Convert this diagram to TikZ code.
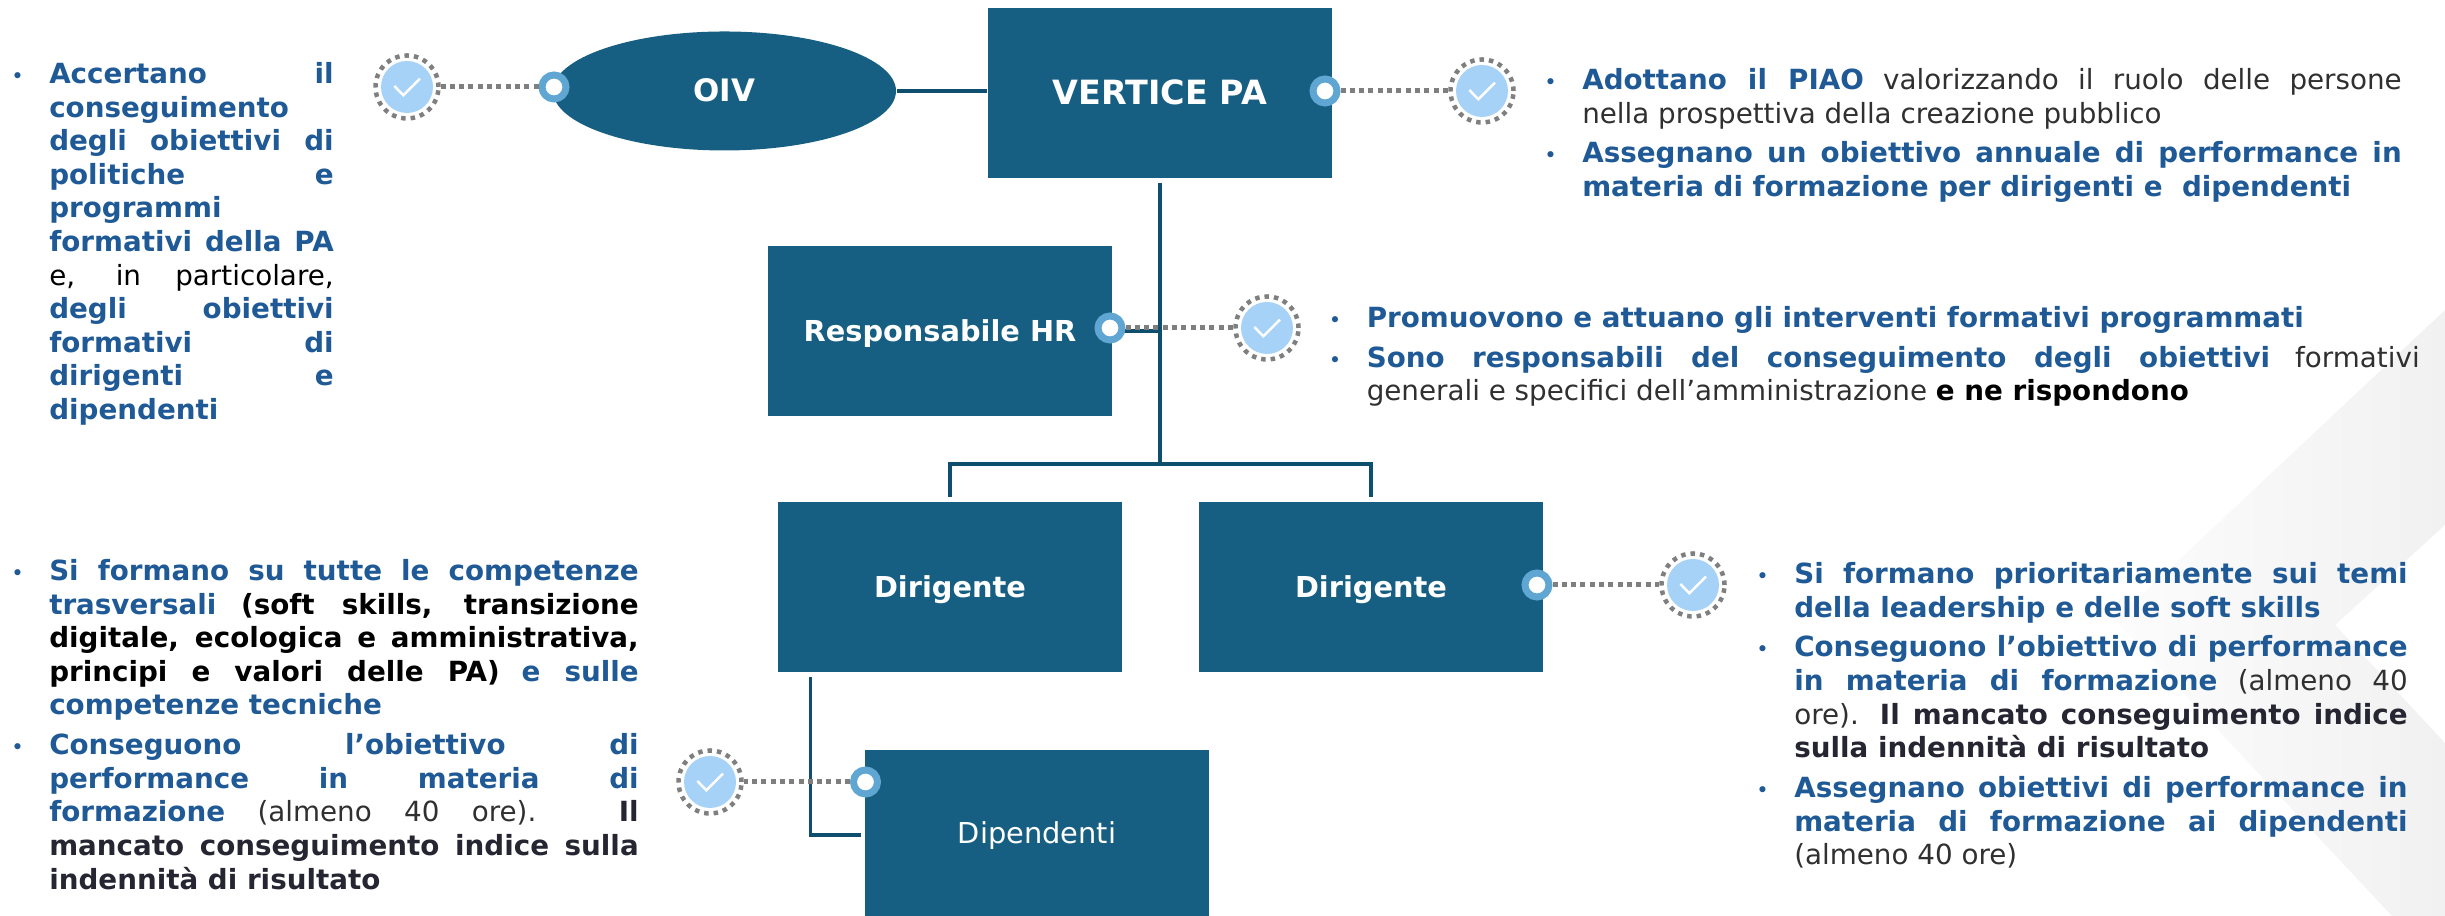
\documentclass[tikz,border=0pt]{standalone}
\usepackage{fontspec}
\setmainfont{DejaVu Sans}
\usetikzlibrary{shapes.geometric}

\definecolor{boxblue}{HTML}{175F82}
\definecolor{linkblue}{HTML}{0F4F6E}
\definecolor{ringblue}{HTML}{5FA6D3}
\definecolor{dotblue}{HTML}{A6D2F7}
\definecolor{dotgray}{HTML}{7F7F7F}
\definecolor{textblue}{HTML}{1F5A96}
\definecolor{textgray}{HTML}{303030}
\definecolor{textdark}{HTML}{262633}
\definecolor{chevrongray}{HTML}{F1F1F1}

\tolerance=10000
\hyphenpenalty=10000
\hfuzz=20pt

\newcommand{\blu}[1]{\textcolor{textblue}{\textbf{#1}}}
\newcommand{\blk}[1]{\textcolor{black}{\textbf{#1}}}
\newcommand{\drk}[1]{\textcolor{textdark}{\textbf{#1}}}
\newcommand{\bitem}{\parskip=1.76pt\par\noindent\hangindent=10.4pt\hangafter=1
  \hbox to 10.4pt{\kern-0.4pt\textcolor{textblue}{\fontsize{6}{6}\selectfont •}\hss}\strut}
\newcommand{\checkmarker}[3]{
  \node[checkdot] (#1) at (#2cm, #3cm) {};
  \node[checkring] (#1ring) at (#1) {};
}

\tikzset{
  orgbox/.style={rectangle, fill=boxblue, text=white, inner sep=0pt,
    minimum width=3.44cm, minimum height=1.70cm},
  orglabel/.style={font=\fontsize{8.2}{10}\selectfont\bfseries, text height=0.21cm, text depth=0pt},
  linkline/.style={draw=linkblue, line width=0.035cm},
  stopring/.style={circle, fill=white, draw=ringblue, line width=0.07cm,
    inner sep=0pt, minimum size=0.24cm},
  checkdot/.style={circle, fill=dotblue, inner sep=0pt, minimum size=0.52cm,
    path picture={\draw[white, line width=0.025cm]
      (-0.127cm,0.01cm) -- (-0.037cm,-0.083cm) -- (0.13cm,0.083cm);}},
  checkring/.style={circle, draw=dotgray, line width=0.045cm, inner sep=0pt,
    minimum size=0.63cm, dash pattern=on 0.045cm off 0.05cm},
  dotlink/.style={draw=dotgray, line width=0.05cm, dash pattern=on 0.05cm off 0.043cm},
  notes/.style={anchor=north west, inner sep=0pt, align=justify, text=textgray,
    font=\fontsize{7.9}{9.56}\selectfont}
}

\begin{document}
\begin{tikzpicture}
\useasboundingbox (0cm, 0cm) rectangle (24.45cm, 9.16cm);

% chevron behind everything
\shade[left color=chevrongray!20, right color=chevrongray, shading angle=90]
  (24.45cm, 6.06cm) -- (21.15cm, 2.96cm) -- (23.92cm, 0cm) -- (24.45cm, 0cm)
  -- (24.45cm, 1.73cm) -- (23.35cm, 2.91cm) -- (24.45cm, 3.91cm) -- cycle;

% organisation chart
\node[ellipse, fill=boxblue, text=white, inner sep=0pt, minimum width=3.43cm,
  minimum height=1.19cm, orglabel, font=\fontsize{8.8}{10}\selectfont\bfseries] (oiv) at (7.245cm, 8.25cm) {OIV};
\node[orgbox, orglabel, font=\fontsize{9.5}{11}\selectfont\bfseries, text height=0.24cm] (vertice) at (11.6cm, 8.23cm) {VERTICE PA};
\node[orgbox, orglabel] (hr) at (9.40cm, 5.85cm) {Responsabile HR};
\node[orgbox, orglabel] (dirleft) at (9.50cm, 3.29cm) {Dirigente};
\node[orgbox, orglabel] (dirright) at (13.71cm, 3.29cm) {Dirigente};
\node[orgbox, orglabel, minimum height=1.66cm, font=\fontsize{8.2}{10}\selectfont] (dip) at (10.37cm, 0.83cm) {Dipendenti};

\coordinate (busmid) at (11.6cm, 4.52cm);
\coordinate (dipstart) at (8.106cm, 2.39cm);
\coordinate (dipend) at (8.61cm, 0.81cm);

\draw[linkline, line width=0.04cm] (oiv.east) -- (oiv.east -| vertice.west);
\draw[linkline, shorten <=0.04cm] (vertice.south) -- (busmid);
\draw[linkline, line width=0.04cm, shorten <=0.04cm, shorten >=0.04cm]
  (dirleft.north) |- (busmid) -| (dirright.north);
\draw[linkline, line width=0.04cm] (hr.east) -- (hr.east -| vertice.south);
\draw[linkline] (dipstart) |- (dipend);

% markers
\node[stopring] (ringoiv) at (5.54cm, 8.29cm) {};
\node[stopring] (ringvertice) at (13.25cm, 8.25cm) {};
\node[stopring] (ringhr) at (11.10cm, 5.88cm) {};
\node[stopring] (ringdir) at (15.37cm, 3.31cm) {};
\node[stopring] (ringdip) at (8.655cm, 1.34cm) {};
\checkmarker{checkoiv}{4.07}{8.29}
\checkmarker{checkvertice}{14.82}{8.25}
\checkmarker{checkhr}{12.67}{5.88}
\checkmarker{checkdir}{16.93}{3.31}
\checkmarker{checkdip}{7.10}{1.34}
\draw[dotlink] (ringoiv) -- (checkoivring);
\draw[dotlink] (ringvertice) -- (checkverticering);
\draw[dotlink] (ringhr) -- (checkhrring);
\draw[dotlink] (ringdir) -- (checkdirring);
\draw[dotlink] (ringdip) -- (checkdipring);

% notes
\node[notes, text width=3.21cm] (noteoiv) at (0.12cm, 8.73cm) {%
\bitem\blu{Accertano il}\linebreak
\blu{conseguimento}\linebreak
\blu{degli obiettivi di}\linebreak
\blu{politiche e}\linebreak
\blu{programmi}\linebreak
\blu{formativi della PA}\linebreak
\textcolor{black}{e, in particolare,}\linebreak
\blu{degli obiettivi}\linebreak
\blu{formativi di}\linebreak
\blu{dirigenti e}\linebreak
\blu{dipendenti}\par};

\node[notes, text width=8.56cm] (notevertice) at (15.45cm, 8.67cm) {%
\bitem\blu{Adottano il PIAO} valorizzando il ruolo delle persone\linebreak
nella prospettiva della creazione pubblico
\bitem\blu{Assegnano un obiettivo annuale di performance in}\linebreak
\blu{materia di formazione per dirigenti e~ dipendenti}\par};

\node[notes, text width=10.895cm] (notehr) at (13.295cm, 6.29cm) {%
\bitem\blu{Promuovono e attuano gli interventi formativi programmati}
\bitem\blu{Sono responsabili del conseguimento degli obiettivi} formativi\linebreak
generali e specifici dell’amministrazione \blk{e ne rispondono}\par};

\node[notes, text width=6.50cm] (notedir) at (17.57cm, 3.73cm) {%
\bitem\blu{Si formano prioritariamente sui temi}\linebreak
\blu{della leadership e delle soft skills}
\bitem\blu{Conseguono l’obiettivo di performance}\linebreak
\blu{in materia di formazione} (almeno 40\linebreak
ore). \drk{Il mancato conseguimento indice}\linebreak
\drk{sulla indennità di risultato}
\bitem\blu{Assegnano obiettivi di performance in}\linebreak
\blu{materia di formazione ai dipendenti}\linebreak
(almeno 40 ore)\par};

\node[notes, text width=6.26cm] (notedip) at (0.12cm, 3.76cm) {%
\bitem\blu{Si formano su tutte le competenze}\linebreak
\blu{trasversali} \blk{(soft skills, transizione}\linebreak
\blk{digitale, ecologica e amministrativa,}\linebreak
\blk{principi e valori delle PA)} \blu{e sulle}\linebreak
\blu{competenze tecniche}
\bitem\blu{Conseguono l’obiettivo di}\linebreak
\blu{performance in materia di}\linebreak
\blu{formazione} (almeno 40 ore). \drk{Il}\linebreak
\drk{mancato conseguimento indice sulla}\linebreak
\drk{indennità di risultato}\par};
\end{tikzpicture}
\end{document}
